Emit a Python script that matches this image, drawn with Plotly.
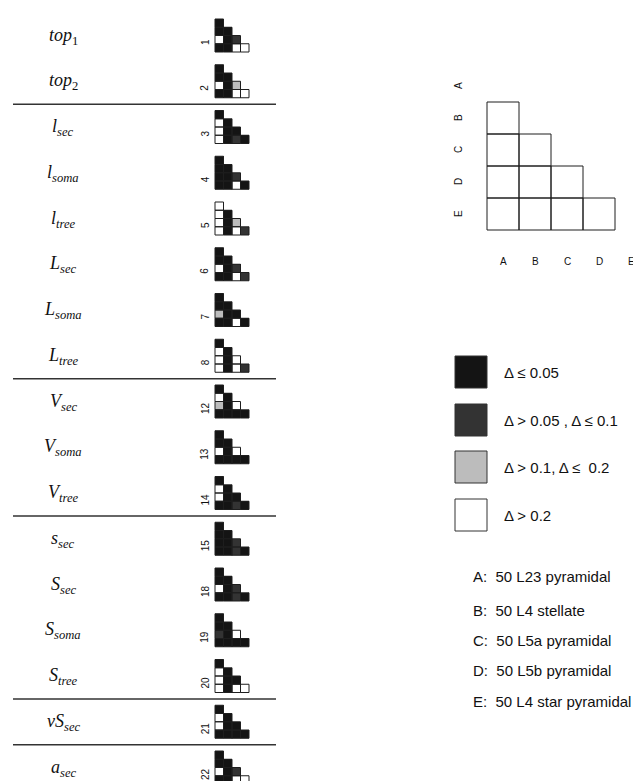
import plotly.graph_objects as go

# ---------------- data ----------------
row_labels = ["<i>top</i><sub>1</sub>", "<i>top</i><sub>2</sub>",
              "<i>l</i><sub><i>sec</i></sub>", "<i>l</i><sub><i>soma</i></sub>", "<i>l</i><sub><i>tree</i></sub>",
              "<i>L</i><sub><i>sec</i></sub>", "<i>L</i><sub><i>soma</i></sub>", "<i>L</i><sub><i>tree</i></sub>",
              "<i>V</i><sub><i>sec</i></sub>", "<i>V</i><sub><i>soma</i></sub>", "<i>V</i><sub><i>tree</i></sub>",
              "<i>s</i><sub><i>sec</i></sub>", "<i>S</i><sub><i>sec</i></sub>", "<i>S</i><sub><i>soma</i></sub>",
              "<i>S</i><sub><i>tree</i></sub>", "<i>vS</i><sub><i>sec</i></sub>", "<i>a</i><sub><i>sec</i></sub>"]
feature_ids = ["1", "2", "3", "4", "5", "6", "7", "8", "12", "13", "14", "15", "18", "19", "20", "21", "22"]
# group separators drawn after these row indices
group_ends = [1, 7, 10, 14, 15]

# significance class per pairwise cell (lower triangle, rows B..E, cols A..D)
# 0: Δ<=0.05, 1: 0.05<Δ<=0.1, 2: 0.1<Δ<=0.2, 3: Δ>0.2
cells = [
    [[0], [0, 0], [3, 0, 1], [0, 0, 3, 3]],   # top1
    [[0], [0, 0], [3, 0, 2], [0, 0, 3, 3]],   # top2
    [[0], [3, 0], [3, 0, 0], [3, 0, 1, 0]],   # l_sec
    [[0], [0, 0], [0, 0, 1], [0, 0, 3, 0]],   # l_soma
    [[3], [3, 0], [3, 0, 2], [3, 0, 3, 1]],   # l_tree
    [[0], [0, 0], [3, 0, 1], [0, 0, 3, 1]],   # L_sec
    [[0], [0, 0], [2, 0, 0], [0, 0, 3, 0]],   # L_soma
    [[0], [3, 0], [3, 0, 3], [3, 0, 3, 1]],   # L_tree
    [[0], [3, 0], [2, 0, 3], [0, 0, 0, 0]],   # V_sec
    [[0], [0, 0], [3, 0, 3], [0, 0, 0, 0]],   # V_soma
    [[0], [3, 0], [3, 0, 0], [0, 0, 1, 0]],   # V_tree
    [[0], [0, 0], [0, 0, 1], [0, 0, 1, 0]],   # s_sec
    [[0], [0, 0], [3, 0, 1], [0, 0, 1, 0]],   # S_sec
    [[0], [0, 0], [1, 0, 3], [0, 0, 0, 0]],   # S_soma
    [[0], [3, 0], [3, 0, 0], [3, 0, 3, 3]],   # S_tree
    [[0], [3, 0], [3, 0, 0], [0, 0, 0, 0]],   # vS_sec
    [[0], [0, 0], [3, 0, 1], [0, 0, 3, 3]],   # a_sec
]
groups = ["A", "B", "C", "D", "E"]
group_names = ["50 L23 pyramidal", "50 L4 stellate", "50 L5a pyramidal",
               "50 L5b pyramidal", "50 L4 star pyramidal"]
class_labels = ["Δ ≤ 0.05", "Δ > 0.05 , Δ ≤ 0.1", "Δ > 0.1, Δ ≤  0.2", "Δ > 0.2"]
class_colors = ["#141414", "#333333", "#bcbcbc", "#ffffff"]

# ---------------- layout constants ----------------
W, H = 641, 781
GX0, GCW, GCH = 207, 8.5, 8.25
GTOP0, GPITCH = 11, 45.75
BORDER = "#1e1e1e"

cscale = [[0, class_colors[0]], [1/3, class_colors[1]], [2/3, class_colors[2]], [1, class_colors[3]]]

fig = go.Figure()
ox, oy = [], []


def add_glyph(tri, x0, y0, cw, ch):
    z = []
    for r in range(4):
        z.append([tri[r][c] if c <= r else None for c in range(4)])
    xs = [x0 + cw * (c + 0.5) for c in range(4)]
    ys = [y0 + ch * (r + 0.5) for r in range(4)]
    fig.add_trace(go.Heatmap(z=z, x=xs, y=ys, zmin=0, zmax=3, colorscale=cscale,
                             showscale=False, hoverinfo="skip"))
    for r in range(4):
        for c in range(r + 1):
            a, b = x0 + cw * c, x0 + cw * (c + 1)
            t, u = y0 + ch * r, y0 + ch * (r + 1)
            ox.extend([a, b, b, a, a, None])
            oy.extend([t, t, u, u, t, None])


for i, tri in enumerate(cells):
    top = GTOP0 + GPITCH * i
    add_glyph(tri, GX0, top, GCW, GCH)
    bottom = top + 4 * GCH
    fig.add_annotation(x=55, y=bottom - 16, text=row_labels[i], showarrow=False,
                       font=dict(family="Liberation Serif", size=18, color="#111"),
                       xanchor="center", yanchor="middle")
    fig.add_annotation(x=197, y=bottom - 10, text=feature_ids[i], showarrow=False, textangle=-90,
                       font=dict(family="Liberation Sans", size=10, color="#111"),
                       xanchor="center", yanchor="middle")

for g in group_ends:
    ly = GTOP0 + GPITCH * g + 33 + 6.5
    fig.add_shape(type="line", x0=5, x1=268, y0=ly, y1=ly, xref="x", yref="y",
                  line=dict(color="#333", width=1.5))

# key triangle (all blank)
KX0, KTOP, KC = 479, 94, 32
add_glyph([[3], [3, 3], [3, 3, 3], [3, 3, 3, 3]], KX0, KTOP, KC, KC)
for k, g in enumerate(groups):
    fig.add_annotation(x=450, y=KTOP + KC * (k - 0.5), text=g, showarrow=False, textangle=-90,
                       font=dict(family="Liberation Sans", size=10, color="#111"))
    fig.add_annotation(x=KX0 + KC * (k + 0.5), y=253, text=g, showarrow=False,
                       font=dict(family="Liberation Sans", size=10, color="#111"))

fig.add_trace(go.Scatter(x=ox, y=oy, mode="lines", line=dict(color=BORDER, width=1),
                         hoverinfo="skip", showlegend=False))

# class legend
LB_Y = [348, 396, 443, 491]
for k in range(4):
    fig.add_shape(type="rect", x0=447, x1=479, y0=LB_Y[k], y1=LB_Y[k] + 32, xref="x", yref="y",
                  fillcolor=class_colors[k], line=dict(color="#333", width=1))
    fig.add_annotation(x=494, y=LB_Y[k] + 16, text=class_labels[k], showarrow=False,
                       xanchor="left", font=dict(family="Liberation Sans", size=15, color="#111"))

# group names
NAME_Y = [568, 602, 632, 662, 693]
for k in range(5):
    fig.add_annotation(x=463, y=NAME_Y[k], text=f"{groups[k]}:  {group_names[k]}", showarrow=False,
                       xanchor="left", font=dict(family="Liberation Sans", size=15, color="#111"))

fig.update_layout(width=W, height=H, margin=dict(l=0, r=0, t=0, b=0),
                  plot_bgcolor="white", paper_bgcolor="white", showlegend=False,
                  xaxis=dict(range=[0, W], visible=False, fixedrange=True),
                  yaxis=dict(range=[H, 0], visible=False, fixedrange=True))
fig.write_html("out.html")
